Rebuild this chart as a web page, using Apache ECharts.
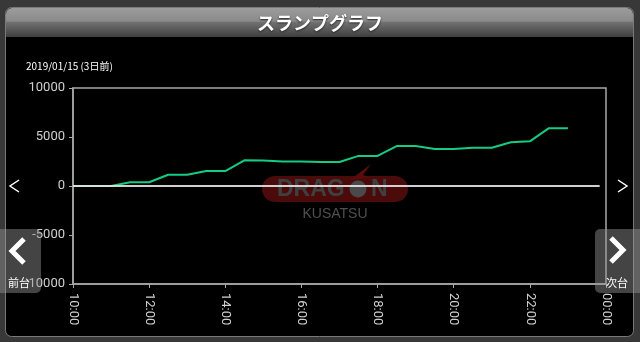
<!DOCTYPE html>
<html><head><meta charset="utf-8">
<style>html,body{margin:0;padding:0;background:#383838;}#c{width:640px;height:342px;}</style>
<script src="https://cdn.jsdelivr.net/npm/echarts@6/dist/echarts.min.js"></script>
</head><body><div id="c"></div>
<script>
// minutes after midnight for each point (every 30 minutes)
const times = [600,630,660,690,720,750,780,810,840,870,900,930,960,990,1020,1050,1080,1110,1140,1170,1200,1230,1260,1290,1320,1350,1380];
const values = [0,0,0,380,380,1150,1150,1530,1530,2620,2600,2500,2500,2450,2450,3070,3070,4080,4080,3780,3780,3900,3900,4460,4560,5900,5900];
const yTicks = [-10000,-5000,0,5000,10000];
const titleText = 'スランプグラフ';
const dateText = '2019/01/15 (3日前)';
const prevText = '前台';
const nextText = '次台';

const chart = echarts.init(document.getElementById('c'));
const jp = '"Noto Sans CJK JP", "Noto Sans", sans-serif';
chart.setOption({
  backgroundColor: '#383838',
  animation: false,
  title: [
    {text: titleText, left: 'center', top: 9, textStyle: {color: '#fff', fontSize: 18, fontWeight: 'bold', fontFamily: jp, textShadowColor: '#222', textShadowBlur: 2, textShadowOffsetY: 1}},
    {text: dateText, left: 21, top: 56, textStyle: {color: '#fff', fontSize: 10, fontWeight: 'normal', fontFamily: jp}}
  ],
  grid: {left: 73, right: 34, top: 88, bottom: 58, show: true, borderColor: '#a8a8a8', borderWidth: 1.5, backgroundColor: 'transparent', z: 3},
  xAxis: {
    type: 'value', min: 600, max: 1440, interval: 120,
    axisLine: {show: true, onZero: false, lineStyle: {color: '#a8a8a8', width: 1.5}},
    axisTick: {show: true, length: 4, lineStyle: {color: '#a8a8a8'}},
    splitLine: {show: false},
    axisLabel: {rotate: -90, color: '#cfcfcf', fontSize: 13, fontFamily: 'Roboto, sans-serif', margin: 9,
      formatter: v => String(Math.floor(v / 60) % 24).padStart(2, '0') + ':00'}
  },
  yAxis: {
    type: 'value', min: yTicks[0], max: yTicks[yTicks.length - 1], interval: 5000,
    axisLine: {show: true, lineStyle: {color: '#a8a8a8', width: 1.5}},
    axisTick: {show: true, length: 4, lineStyle: {color: '#a8a8a8'}},
    splitLine: {show: false},
    axisLabel: {color: '#cfcfcf', fontSize: 13, fontFamily: 'Roboto, sans-serif', margin: 8, formatter: v => String(v)}
  },
  series: [{
    type: 'line', data: times.map((t, i) => [t, values[i]]), showSymbol: false, symbol: 'none',
    lineStyle: {color: '#14cc82', width: 2}, z: 4,
    markLine: {silent: true, symbol: 'none', label: {show: false}, animation: false,
      lineStyle: {color: '#e6e6e6', width: 2, type: 'solid', opacity: 0.9},
      data: [[{coord: [600, 0]}, {coord: [1430, 0]}]]}
  }],
  graphic: [
    {type: 'rect', z: -10, shape: {x: 5.5, y: 7.5, width: 628, height: 329, r: 6}, style: {fill: '#000', stroke: '#7a7a7a', lineWidth: 1}},
    {type: 'rect', z: -9, shape: {x: 6, y: 8, width: 627, height: 29, r: [6, 6, 0, 0]},
      style: {fill: new echarts.graphic.LinearGradient(0, 0, 0, 1, [
        {offset: 0, color: '#9c9c9c'}, {offset: 0.45, color: '#8a8a8a'}, {offset: 0.5, color: '#707070'}, {offset: 1, color: '#3e3e3e'}])}},
    // logo
    {type: 'rect', z: 1, shape: {x: 262, y: 176, width: 146, height: 26, r: 13}, style: {fill: '#4b0b0b'}},
    {type: 'polygon', z: 1, shape: {points: [[350, 180], [371, 164], [363, 175], [369, 177]]}, style: {fill: '#5a0c0c'}},
    {type: 'text', z: 2, style: {text: 'DRAG', x: 277, y: 190, fill: '#404040', font: 'bold 23px "Liberation Sans", Arial, sans-serif', verticalAlign: 'middle'}},
    {type: 'circle', z: 2, shape: {cx: 358, cy: 189, r: 8.5}, style: {fill: '#4a4a4a'}},
    {type: 'text', z: 2, style: {text: 'N', x: 371, y: 190, fill: '#404040', font: 'bold 23px "Liberation Sans", Arial, sans-serif', verticalAlign: 'middle'}},
    {type: 'text', z: 2, style: {text: 'KUSATSU', x: 335, y: 214, fill: '#505050', font: '14px "Liberation Sans", Arial, sans-serif', align: 'center', verticalAlign: 'middle'}},
    // small arrows
    {type: 'polyline', z: 20, shape: {points: [[19, 180], [10, 186], [19, 192]]}, style: {stroke: '#fff', lineWidth: 1.5, fill: null}},
    {type: 'polyline', z: 20, shape: {points: [[618, 180], [627, 186], [618, 192]]}, style: {stroke: '#fff', lineWidth: 1.5, fill: null}},
    // prev button
    {type: 'rect', z: 20, shape: {x: -6, y: 229, width: 47, height: 64, r: 5}, style: {fill: 'rgba(150,150,150,0.45)'}},
    {type: 'polyline', z: 21, shape: {points: [[24, 239], [12, 251], [24, 263]]}, style: {stroke: '#fff', lineWidth: 5, fill: null, lineJoin: 'miter'}},
    {type: 'text', z: 21, style: {text: prevText, x: 8, y: 283, fill: '#fff', font: '11px "Noto Sans CJK JP", sans-serif', verticalAlign: 'middle'}},
    // next button
    {type: 'rect', z: 20, shape: {x: 595, y: 229, width: 52, height: 64, r: 5}, style: {fill: 'rgba(150,150,150,0.45)'}},
    {type: 'polyline', z: 21, shape: {points: [[611, 238], [623, 250], [611, 262]]}, style: {stroke: '#fff', lineWidth: 5, fill: null, lineJoin: 'miter'}},
    {type: 'text', z: 21, style: {text: nextText, x: 606, y: 283, fill: '#fff', font: '11px "Noto Sans CJK JP", sans-serif', verticalAlign: 'middle'}}
  ]
});
</script></body></html>
